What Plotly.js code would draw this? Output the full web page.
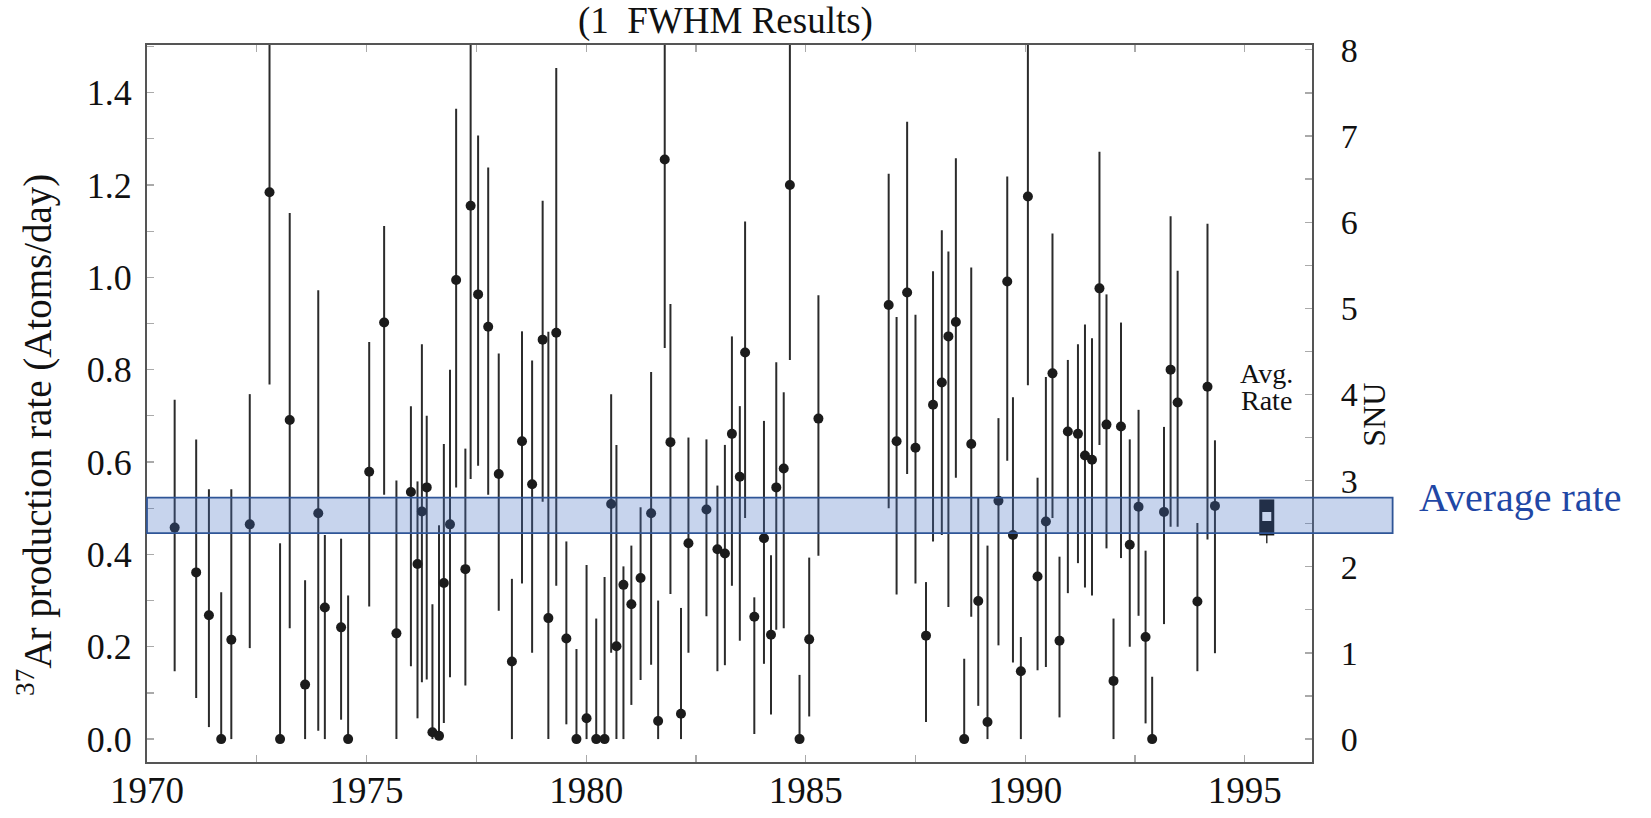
<!DOCTYPE html>
<html>
<head>
<meta charset="utf-8">
<script src="https://cdn.plot.ly/plotly-3.0.1.min.js"></script>
<style>
html,body{margin:0;padding:0;background:#fff;}
#chart{width:1651px;height:818px;}
</style>
</head>
<body>
<div id="chart"></div>
<script>
// ---- Data ----
const runYear = [
1970.63,1971.12,1971.41,1971.69,1971.92,1972.34,1972.79,1973.03,1973.25,1973.60,
1973.90,1974.05,1974.42,1974.58,1975.06,1975.40,1975.68,1976.01,1976.16,1976.26,
1976.37,1976.50,1976.65,1976.76,1976.90,1977.04,1977.25,1977.37,1977.54,1977.77,
1978.01,1978.31,1978.54,1978.77,1979.01,1979.14,1979.32,1979.55,1979.78,1980.01,
1980.23,1980.42,1980.57,1980.69,1980.85,1981.03,1981.24,1981.48,1981.64,1981.79,
1981.92,1982.16,1982.33,1982.74,1982.99,1983.16,1983.32,1983.50,1983.62,1983.83,
1984.05,1984.21,1984.33,1984.50,1984.64,1984.86,1985.08,1985.29,1986.89,1987.07,
1987.31,1987.50,1987.74,1987.90,1988.10,1988.25,1988.42,1988.61,1988.77,1988.93,
1989.14,1989.39,1989.59,1989.72,1989.90,1990.06,1990.28,1990.47,1990.62,1990.78,
1990.97,1991.20,1991.36,1991.52,1991.69,1991.85,1992.01,1992.18,1992.38,1992.58,
1992.74,1992.89,1993.16,1993.31,1993.47,1993.92,1994.15,1994.32];

const runRate = [
0.458,0.361,0.268,0.000,0.215,0.465,1.184,0.000,0.691,0.118,
0.489,0.285,0.242,0.000,0.579,0.902,0.229,0.535,0.379,0.493,
0.545,0.015,0.007,0.338,0.465,0.994,0.368,1.155,0.963,0.893,
0.574,0.168,0.645,0.552,0.865,0.262,0.880,0.218,0.000,0.045,
0.000,0.000,0.509,0.201,0.334,0.292,0.349,0.489,0.039,1.255,
0.643,0.055,0.424,0.497,0.411,0.402,0.661,0.568,0.837,0.265,
0.435,0.226,0.545,0.586,1.200,0.000,0.216,0.694,0.940,0.645,
0.967,0.631,0.224,0.724,0.772,0.872,0.903,0.000,0.639,0.299,
0.037,0.516,0.991,0.442,0.147,1.175,0.352,0.471,0.792,0.213,
0.666,0.661,0.614,0.605,0.976,0.681,0.126,0.677,0.421,0.503,
0.221,0.000,0.492,0.800,0.729,0.298,0.763,0.505];

const runHigh = [
0.735,0.649,0.541,0.318,0.541,0.747,1.620,0.424,1.139,0.344,
0.972,0.442,0.434,0.311,0.860,1.111,0.560,0.721,0.558,0.855,
0.700,0.292,0.463,0.639,0.800,1.365,0.629,1.760,1.307,1.238,
0.835,0.347,0.883,0.820,1.166,0.882,1.453,0.428,0.195,0.377,
0.261,0.351,0.747,0.637,0.374,0.419,0.502,0.795,0.300,1.680,
0.942,0.284,0.653,0.649,0.549,0.637,0.872,0.721,1.121,0.307,
0.689,0.398,0.816,0.751,1.600,0.139,0.393,0.961,1.224,0.914,
1.337,0.919,0.340,1.013,1.102,1.056,1.258,0.174,1.021,0.523,
0.419,0.695,1.218,0.740,0.221,1.600,0.566,0.784,1.095,0.395,
0.821,0.855,0.898,0.868,1.272,0.963,0.261,0.902,0.649,0.713,
0.408,0.135,0.676,1.132,1.014,0.468,1.116,0.647];

const runLow = [
0.147,0.089,0.026,0.000,0.000,0.197,0.768,0.000,0.240,0.000,
0.018,0.000,0.042,0.000,0.287,0.529,0.000,0.158,0.045,0.123,
0.129,0.000,0.000,0.035,0.134,0.545,0.116,0.563,0.592,0.529,
0.278,0.000,0.337,0.187,0.514,0.000,0.332,0.032,0.000,0.000,
0.000,0.000,0.187,0.000,0.000,0.074,0.128,0.161,0.000,0.847,
0.314,0.000,0.187,0.266,0.147,0.160,0.332,0.213,0.479,0.011,
0.163,0.053,0.237,0.240,0.821,0.000,0.049,0.397,0.500,0.313,
0.574,0.337,0.037,0.428,0.442,0.286,0.566,0.000,0.265,0.072,
0.000,0.203,0.603,0.166,0.000,0.766,0.149,0.156,0.479,0.047,
0.316,0.381,0.328,0.311,0.637,0.413,0.000,0.392,0.200,0.267,
0.034,0.000,0.249,0.460,0.460,0.147,0.432,0.186];

// Average rate (plotted at right)
const avgYear = [1995.5];
const avgRate = [0.482];
const avgStatPlus = [0.037];
const avgStatMinus = [0.041];
const avgSysMinus = [0.058];
const avgBandLow = 0.446;
const avgBandHigh = 0.523;

// SNU conversion (right axis)
const snuPerRate = 5.36;

// Axis tick labels
const xTickVals = [1970,1975,1980,1985,1990,1995];
const xTickText = ['1970','1975','1980','1985','1990','1995'];

const titleText = '(1\u00a0 FWHM Results)';
const yTitleText = '<sup>37</sup>Ar production rate (Atoms/day)';
const y2TitleText = 'SNU';

// ---- Derived ----
const errPlus = runHigh.map((h,i)=>+(h - runRate[i]).toFixed(4));
const errMinus = runLow.map((l,i)=>+(runRate[i] - l).toFixed(4));

const yRange = [-0.0496, 1.503];
const serif = 'Liberation Serif, Times New Roman, serif';

const traces = [
  {
    type:'scatter', mode:'markers', x: runYear, y: runRate,
    marker:{color:'#1b1b1b', size:10, symbol:'circle'},
    error_y:{type:'data', symmetric:false, array: errPlus, arrayminus: errMinus,
             color:'#2b2b2b', thickness:2, width:0},
    showlegend:false, hoverinfo:'x+y', cliponaxis:true
  },
  {
    type:'scatter', mode:'markers', x: avgYear, y: avgRate,
    marker:{color:'rgba(0,0,0,0)', size:1},
    error_y:{type:'data', symmetric:false, array:[0], arrayminus: avgSysMinus,
             color:'#333', thickness:1.5, width:0},
    showlegend:false, hoverinfo:'skip'
  },
  {
    type:'scatter', mode:'markers', x: avgYear, y: avgRate,
    marker:{color:'#ffffff', size:9, symbol:'square'},
    error_y:{type:'data', symmetric:false, array: avgStatPlus, arrayminus: avgStatMinus,
             color:'#141414', thickness:15, width:0},
    showlegend:false, hoverinfo:'x+y'
  },
  {
    type:'scatter', mode:'markers', x:[null], y:[null], yaxis:'y2',
    showlegend:false, hoverinfo:'skip'
  }
];

const layout = {
  width:1651, height:818,
  margin:{l:147, r:339, t:45, b:56, pad:0},
  paper_bgcolor:'#ffffff', plot_bgcolor:'#ffffff',
  showlegend:false,
  font:{family:serif, color:'#111', size:34},
  title:{text:titleText, font:{family:serif, size:37, color:'#111'},
         x:0.4394, xref:'container', xanchor:'center',
         y:0.975, yref:'container', yanchor:'middle'},
  xaxis:{
    range:[1970, 1996.53], showgrid:false, zeroline:false,
    tickmode:'array', tickvals:xTickVals, ticktext:xTickText,
    ticks:'inside', ticklen:7, tickwidth:1.2, tickcolor:'#aaa',
    minor:{dtick:2.5, tick0:1970, ticks:'inside', ticklen:7, tickwidth:1.2, tickcolor:'#aaa', showgrid:false},
    showline:true, linecolor:'#555', linewidth:2, mirror:'ticks',
    tickfont:{family:serif, size:37, color:'#111'},
    ticklabelstandoff:-5
  },
  yaxis:{
    range:yRange, showgrid:false, zeroline:false,
    dtick:0.2, tick0:0, tickformat:'.1f',
    ticks:'inside', ticklen:7, tickwidth:1.2, tickcolor:'#aaa',
    minor:{dtick:0.1, tick0:0, ticks:'inside', ticklen:7, tickwidth:1.2, tickcolor:'#aaa', showgrid:false},
    showline:true, linecolor:'#555', linewidth:2, mirror:false,
    tickfont:{family:serif, size:36, color:'#111'},
    ticklabelstandoff:6
  },
  yaxis2:{
    overlaying:'y', side:'right',
    range:[yRange[0]*snuPerRate, yRange[1]*snuPerRate],
    showgrid:false, zeroline:false, dtick:1, tick0:0,
    ticks:'inside', ticklen:7, tickwidth:1.2, tickcolor:'#aaa',
    minor:{dtick:0.5, tick0:0, ticks:'inside', ticklen:7, tickwidth:1.2, tickcolor:'#aaa', showgrid:false},
    showline:true, linecolor:'#555', linewidth:2,
    tickfont:{family:serif, size:34, color:'#111'},
    ticklabelstandoff:20
  },
  shapes:[
    {type:'rect', xref:'paper', yref:'y', x0:0, x1:1.0692,
     y0:avgBandLow, y1:avgBandHigh, layer:'above',
     fillcolor:'rgba(68,114,196,0.30)', line:{color:'#2f5597', width:1.8}}
  ],
  annotations:[
    {text:yTitleText, textangle:-90, xref:'paper', yref:'paper',
     x:-0.0965, y:0.4556, xanchor:'center', yanchor:'middle', showarrow:false,
     font:{family:serif, size:39, color:'#111'}},
    {text:y2TitleText, textangle:-90, xref:'paper', yref:'paper',
     x:1.0535, y:0.4849, xanchor:'center', yanchor:'middle', showarrow:false,
     font:{family:serif, size:32, color:'#111'}},
    {text:'Avg.', xref:'x', yref:'y', x:avgYear[0], y:0.792, xanchor:'center', yanchor:'middle',
     showarrow:false, font:{family:serif, size:28, color:'#111'}},
    {text:'Rate', xref:'x', yref:'y', x:avgYear[0], y:0.733, xanchor:'center', yanchor:'middle',
     showarrow:false, font:{family:serif, size:28, color:'#111'}},
    {text:'Average rate', xref:'paper', yref:'y', x:1.0904, y:avgBandHigh, xanchor:'left', yanchor:'middle',
     showarrow:false, font:{family:serif, size:40, color:'#1f47a5'}}
  ]
};

Plotly.newPlot('chart', traces, layout, {displayModeBar:false, staticPlot:true});
</script>
</body>
</html>
